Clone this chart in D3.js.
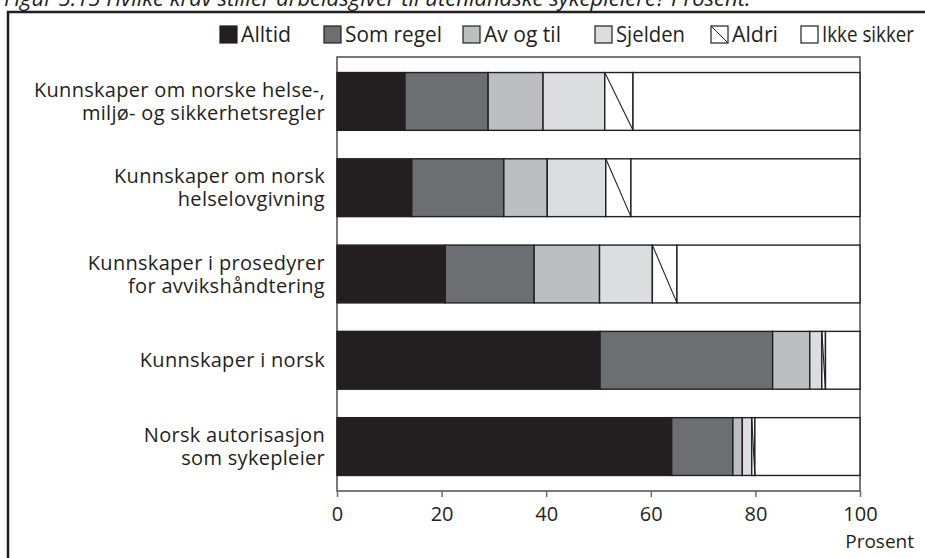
<!DOCTYPE html>
<html>
<head>
<meta charset="utf-8">
<script src="https://cdn.jsdelivr.net/npm/d3@7"></script>
<style>
  body { margin: 0; background: #fff; }
  svg { display: block; }
  text { fill: #231f20; }
</style>
</head>
<body>
<svg id="chart" width="925" height="558"></svg>
<script>
// categories, top to bottom (two-line labels)
var categories = [
    ["Kunnskaper om norske helse-,", "miljø- og sikkerhetsregler"],
    ["Kunnskaper om norsk", "helselovgivning"],
    ["Kunnskaper i prosedyrer", "for avvikshåndtering"],
    ["Kunnskaper i norsk"],
    ["Norsk autorisasjon", "som sykepleier"]
];
var seriesNames = ["Alltid", "Som regel", "Av og til", "Sjelden", "Aldri", "Ikke sikker"];
var alltid     = [13.0, 14.3, 20.7, 50.3, 64.0];
var somRegel   = [15.9, 17.6, 17.0, 33.0, 11.7];
var avOgTil    = [10.5,  8.3, 12.5,  7.1,  1.8];
var sjelden    = [11.8, 11.2, 10.1,  2.3,  1.8];
var aldri      = [ 5.4,  4.8,  4.7,  0.7,  0.6];
var ikkeSikker = [43.4, 43.8, 35.0,  6.6, 20.1];
var xTicks = [0, 20, 40, 60, 80, 100];

var colors = ["#231f20", "#6d6e71", "#bcbec0", "#dcdddf", "#ffffff", "#ffffff"];
var ink = "#231f20";
// legend text start and width (layout only)
var legendTextX = [241, 345, 484, 616, 732, 822];
var legendTextW = [50, 97, 77, 69, 46, 92];

var svg = d3.select("#chart");

// table for d3.stack
var table = categories.map(function (c, i) {
    return {
        key: i,
        "Alltid": alltid[i], "Som regel": somRegel[i], "Av og til": avOgTil[i],
        "Sjelden": sjelden[i], "Aldri": aldri[i], "Ikke sikker": ikkeSikker[i]
    };
});
var stacked = d3.stack().keys(seriesNames)(table);

var x = d3.scaleLinear().domain([0, 100]).range([337, 860]);
var y = d3.scaleBand().domain(d3.range(categories.length)).range([57, 491])
    .paddingInner(0.33).paddingOuter(0.18);

// figure title (clipped at the top edge, as in the source)
svg.append("text")
    .attr("x", 4).attr("y", 6)
    .style("font-family", "'Open Sans', sans-serif")
    .style("font-style", "italic")
    .style("font-size", "22px")
    .text("Figur 5.15 Hvilke krav stiller arbeidsgiver til utenlandske sykepleiere? Prosent.");

// outer frame, runs off the right and bottom edges
svg.append("path")
    .attr("d", "M8,600 V12 H960")
    .attr("fill", "none").attr("stroke", ink).attr("stroke-width", 2.5);

// plot box
svg.append("rect")
    .attr("x", x(0)).attr("y", 57)
    .attr("width", x(100) - x(0)).attr("height", 491 - 57)
    .attr("fill", "none").attr("stroke", "#4d4d4f").attr("stroke-width", 1.5);

// bars
var groups = svg.selectAll("g.series").data(stacked).enter().append("g")
    .attr("class", "series");

groups.selectAll("rect").data(function (s) { return s; }).enter().append("rect")
    .attr("x", function (d) { return x(d[0]); })
    .attr("y", function (d, i) { return y(i); })
    .attr("width", function (d) { return x(d[1]) - x(d[0]); })
    .attr("height", y.bandwidth())
    .attr("fill", function () { return colors[d3.select(this.parentNode).datum().index]; })
    .attr("stroke", ink).attr("stroke-width", 1.4);

// diagonal in the "Aldri" segments
var aldriLayer = stacked[4];
svg.append("g").selectAll("line").data(aldriLayer).enter().append("line")
    .attr("x1", function (d) { return x(d[0]); })
    .attr("y1", function (d, i) { return y(i); })
    .attr("x2", function (d) { return x(d[1]); })
    .attr("y2", function (d, i) { return y(i) + y.bandwidth(); })
    .attr("stroke", ink).attr("stroke-width", 1.1);

// x axis ticks and labels
var xAxis = svg.append("g").attr("transform", "translate(0,491)")
    .call(d3.axisBottom(x).tickValues(xTicks).tickSize(6).tickPadding(10));
xAxis.select(".domain").remove();
xAxis.selectAll("line").attr("stroke", "#6d6e71").attr("stroke-width", 1.5);
xAxis.selectAll("text")
    .style("font-family", "'Open Sans', sans-serif")
    .style("font-size", "20px")
    .attr("fill", ink);

svg.append("text")
    .attr("x", 914).attr("y", 548)
    .attr("text-anchor", "end")
    .style("font-family", "'Open Sans', sans-serif")
    .style("font-size", "19px")
    .text("Prosent");

// category labels
var lab = svg.append("g").selectAll("text").data(categories).enter().append("text")
    .attr("text-anchor", "end")
    .style("font-family", "'Open Sans', sans-serif")
    .style("font-size", "20px")
    .style("letter-spacing", "0.3px");
lab.each(function (lines, i) {
    var t = d3.select(this);
    var cy = y(i) + y.bandwidth() / 2;
    var start = cy - (lines.length - 1) * 23 / 2 + 7;
    lines.forEach(function (l, k) {
        t.append("tspan").attr("x", 325).attr("y", start + k * 23).text(l);
    });
});

// legend
var items = svg.append("g").selectAll("g").data(seriesNames).enter().append("g")
    .attr("transform", function (d, i) { return "translate(" + legendTextX[i] + ",0)"; });
items.append("rect")
    .attr("x", -21).attr("y", 26)
    .attr("width", 17).attr("height", 17)
    .attr("fill", function (d, i) { return colors[i]; })
    .attr("stroke", ink).attr("stroke-width", 1.2);
items.filter(function (d) { return d === "Aldri"; }).append("line")
    .attr("x1", -21).attr("y1", 26).attr("x2", -4).attr("y2", 43)
    .attr("stroke", ink).attr("stroke-width", 1);
items.append("text")
    .attr("x", 0).attr("y", 42)
    .attr("textLength", function (d, i) { return legendTextW[i]; })
    .attr("lengthAdjust", "spacingAndGlyphs")
    .style("font-family", "'Open Sans', sans-serif")
    .style("font-size", "21px")
    .text(function (d) { return d; });
</script>
</body>
</html>
